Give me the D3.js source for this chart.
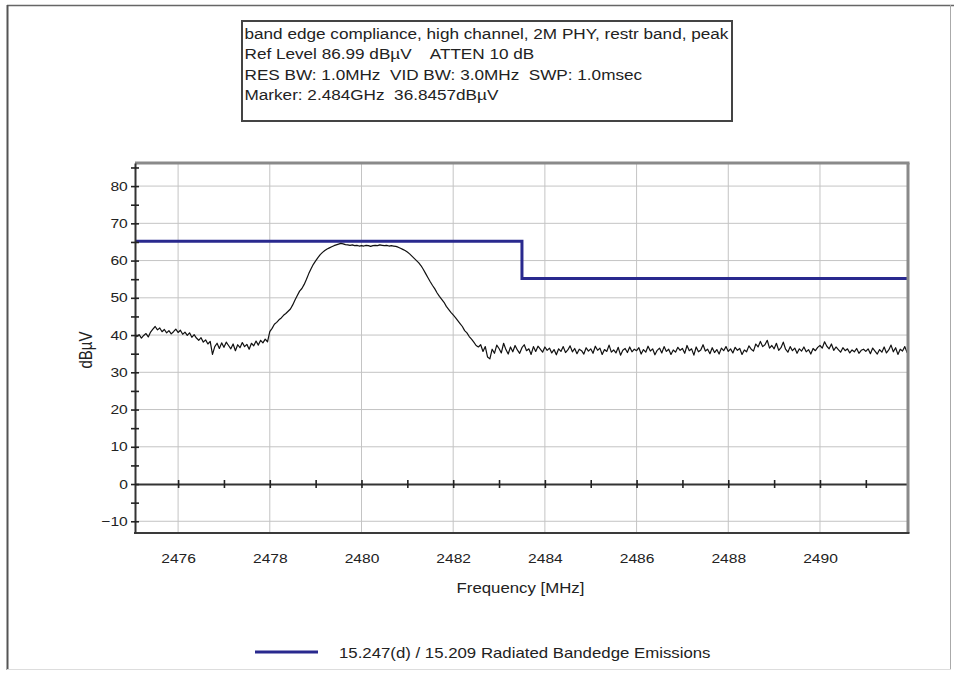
<!DOCTYPE html>
<html>
<head>
<meta charset="utf-8">
<script src="https://cdn.jsdelivr.net/npm/d3@7"></script>
<style>
  html, body { margin: 0; padding: 0; background: #fff; }
  svg { display: block; font-family: "Liberation Sans", Arial, sans-serif; }
</style>
</head>
<body>
<svg id="chart" width="954" height="675"></svg>
<script>
// ---- Measurement header ----
const headerLines = [
  "band edge compliance, high channel, 2M PHY, restr band, peak",
  "Ref Level 86.99 dBµV    ATTEN 10 dB",
  "RES BW: 1.0MHz  VID BW: 3.0MHz  SWP: 1.0msec",
  "Marker: 2.484GHz  36.8457dBµV"
];

// ---- Sweep trace (dBµV), one reading every 0.05 MHz from 2475.00 MHz ----
const traceStartMHz = 2475.0;
const traceStepMHz = 0.05;
const traceLevels = [
  // 2475
  39.8, 40.3, 39.6, 40.1, 39.2, 39.9, 40.4, 39.5, 40.8, 41.6, 42.3, 41.4, 41.9, 40.9, 41.5, 40.6, 41.2, 40.3, 40.9, 41.6,
  // 2476
  40.7, 41.3, 40.2, 40.8, 39.9, 40.6, 39.4, 40.1, 39.2, 38.6, 39.3, 38.1, 38.7, 37.6, 38.3, 34.8, 36.9, 37.8, 36.4, 37.9,
  // 2477
  36.7, 38.1, 37.2, 36.3, 37.6, 35.8, 37.4, 36.6, 38.0, 36.9, 37.5, 36.2, 37.8, 37.1, 38.4, 37.3, 38.6, 37.9, 38.9, 38.2,
  // 2478
  40.9, 41.8, 42.9, 43.4, 44.1, 44.6, 45.3, 45.8, 46.4, 47.0, 48.1, 49.4, 50.6, 51.8, 52.5, 53.6, 55.0, 56.5, 57.8, 59.0,
  // 2479
  59.9, 60.8, 61.6, 62.2, 62.7, 63.1, 63.4, 63.7, 64.0, 64.2, 64.4, 64.6, 64.5, 64.3, 64.2, 64.1, 64.2, 64.0, 64.1, 63.9,
  // 2480
  64.0, 63.9, 64.1, 64.0, 63.8, 64.0, 64.1, 64.0, 64.2, 64.1, 64.0, 64.1, 63.9, 64.0, 63.9, 63.8, 63.6, 63.3, 63.0, 62.7,
  // 2481
  62.3, 61.8, 61.2, 60.6, 60.0, 59.4, 58.6, 57.6, 56.5, 55.4, 54.3, 53.3, 52.4, 51.3, 50.4, 49.6, 48.8, 47.7, 46.9, 46.1,
  // 2482
  45.4, 44.7, 43.9, 43.1, 42.3, 41.2, 40.6, 39.6, 38.9, 38.1, 37.2, 36.8, 37.4, 35.6, 36.9, 34.1, 33.6, 36.2, 35.1, 37.3,
  // 2483
  36.4, 35.2, 37.8, 36.1, 34.9, 36.8, 35.5, 37.2, 36.0, 35.1, 36.6, 37.4, 35.8, 36.3, 34.8, 36.9, 35.6, 37.0, 36.2, 35.4,
  // 2484
  36.8, 35.9, 36.5, 35.2, 36.1, 34.7, 36.3, 35.6, 36.9, 35.3, 36.0, 37.1, 35.5, 36.4, 35.0, 36.2, 35.8, 34.9, 36.6, 35.7,
  // 2485
  36.3, 35.1, 37.0, 35.9, 36.5, 34.8, 36.1, 35.6, 37.3, 35.4, 36.0, 35.2, 36.7, 34.6, 35.9, 36.4, 35.3, 36.8, 35.5, 36.2,
  // 2486
  35.8, 36.6, 34.9, 36.1, 35.4, 37.0, 35.7, 36.3, 34.7, 35.9, 36.5, 35.2, 36.9, 35.6, 36.2, 34.8, 36.0, 35.4, 36.7, 35.9,
  // 2487
  36.4, 35.1, 37.2, 35.8, 36.3, 34.6, 36.8, 35.5, 36.0, 37.4, 35.7, 36.2, 35.0, 36.6, 35.3, 36.1, 34.9, 36.5, 35.8, 36.9,
  // 2488
  35.6, 36.3, 35.2, 36.7, 35.9, 36.4, 34.8, 36.0, 35.5, 37.1, 36.2, 35.7, 37.6, 36.8, 38.3, 36.9, 37.4, 38.6, 36.5, 37.2,
  // 2489
  36.3, 37.8, 35.9, 36.6, 38.1, 36.2, 35.4, 36.9, 35.8, 36.5, 35.1, 36.3, 35.7, 36.8, 35.5, 36.1, 34.9, 36.4, 35.8, 36.7,
  // 2490
  37.2, 36.5, 38.2, 37.0, 36.3, 37.6, 35.9, 36.8, 36.1, 35.4, 36.6, 35.8, 36.3, 35.2, 36.0, 35.5, 36.4, 35.1, 35.9, 36.2,
  // 2491
  35.6, 36.3, 35.0, 36.5, 35.7, 34.9, 36.1, 35.4, 36.8, 35.2, 36.0, 37.3, 35.5, 36.6, 34.8, 36.2, 35.7, 36.9, 35.3, 36.1,
  // 2492
  35.8
];

// ---- Limit line: 15.247(d) / 15.209 ----
const limitFreqs = [2475.0, 2483.5, 2483.5, 2492.0];
const limitLevels = [65.2, 65.2, 55.2, 55.2];
const legendLabel = "15.247(d) / 15.209 Radiated Bandedge Emissions";

// ---- Axes ----
const xLabelTicks = [2476, 2478, 2480, 2482, 2484, 2486, 2488, 2490];
const xMinorTicks = [2476, 2477, 2478, 2479, 2480, 2481, 2482, 2483, 2484, 2485, 2486, 2487, 2488, 2489, 2490, 2491];
const yLabelTicks = [-10, 0, 10, 20, 30, 40, 50, 60, 70, 80];
const yMinorTicks = [-10, -5, 0, 5, 10, 15, 20, 25, 30, 35, 40, 45, 50, 55, 60, 65, 70, 75, 80, 85];
const xTitle = "Frequency [MHz]";
const yTitle = "dBµV";

// Text in this analyzer export is drawn horizontally widened
const SX = 1.2;
const textColor = "#222";
const limitColor = "#29298e";

const svg = d3.select("#chart");
const plot = { left: 135, right: 908, top: 163, bottom: 533 };

const x = d3.scaleLinear().domain([2475.06, 2491.92]).range([plot.left, plot.right]);
const y = d3.scaleLinear().domain([-13.15, 86.2]).range([plot.bottom, plot.top]);

// Outer window frame
svg.append("line").attr("x1", 7).attr("x2", 954).attr("y1", 5.5).attr("y2", 5.5)
  .attr("stroke", "#666").attr("stroke-width", 1.5);
svg.append("line").attr("x1", 7.5).attr("x2", 7.5).attr("y1", 5).attr("y2", 670)
  .attr("stroke", "#555").attr("stroke-width", 2);
svg.append("line").attr("x1", 950.5).attr("x2", 950.5).attr("y1", 5).attr("y2", 670)
  .attr("stroke", "#aaa").attr("stroke-width", 1);
svg.append("line").attr("x1", 7).attr("x2", 951).attr("y1", 669.5).attr("y2", 669.5)
  .attr("stroke", "#ddd").attr("stroke-width", 1);

// Header box
svg.append("rect").attr("x", 242).attr("y", 21).attr("width", 490).attr("height", 100)
  .attr("fill", "#fff").attr("stroke", "#444").attr("stroke-width", 2);
const headerBaselines = [38.5, 59, 79.5, 100];
svg.append("g").selectAll("text").data(headerLines).join("text")
  .attr("transform", (d, i) => `translate(244.5,${headerBaselines[i]}) scale(${SX},1)`)
  .style("white-space", "pre")
  .attr("font-size", 14.3)
  .attr("fill", textColor)
  .text(d => d);

// Grid
const grid = svg.append("g");
grid.selectAll("line.gx").data(xLabelTicks).join("line")
  .attr("x1", d => x(d)).attr("x2", d => x(d))
  .attr("y1", plot.top).attr("y2", plot.bottom)
  .attr("stroke", "#c4c4c4").attr("stroke-width", 1);
grid.selectAll("line.gy").data(yLabelTicks.filter(v => v !== 0)).join("line")
  .attr("x1", plot.left).attr("x2", plot.right)
  .attr("y1", d => y(d)).attr("y2", d => y(d))
  .attr("stroke", "#c4c4c4").attr("stroke-width", 1);

// Clip for data
svg.append("clipPath").attr("id", "plotClip").append("rect")
  .attr("x", plot.left).attr("y", plot.top)
  .attr("width", plot.right - plot.left).attr("height", plot.bottom - plot.top);

// Zero reference axis with 1 MHz ticks
const zeroAxis = svg.append("g")
  .attr("transform", `translate(0,${y(0)})`)
  .call(d3.axisBottom(x).tickValues(xMinorTicks).tickSize(8).tickSizeOuter(0).tickFormat(""));
zeroAxis.select(".domain").attr("stroke", "#333").attr("stroke-width", 2);
zeroAxis.selectAll(".tick line").attr("transform", "translate(0,-4)")
  .attr("stroke", "#222").attr("stroke-width", 1.6);

// Limit line
const limitData = limitFreqs.map((f, i) => [f, limitLevels[i]]);
svg.append("path").datum(limitData)
  .attr("clip-path", "url(#plotClip)")
  .attr("fill", "none").attr("stroke", limitColor).attr("stroke-width", 3)
  .attr("d", d3.line().x(d => x(d[0])).y(d => y(d[1])));

// Trace
const traceData = traceLevels.map((v, i) => [traceStartMHz + i * traceStepMHz, v]);
svg.append("path").datum(traceData)
  .attr("clip-path", "url(#plotClip)")
  .attr("fill", "none").attr("stroke", "#111").attr("stroke-width", 1.2)
  .attr("stroke-linejoin", "round")
  .attr("d", d3.line().x(d => x(d[0])).y(d => y(d[1])));

// Plot frame: top and right heavier gray, left and bottom dark
svg.append("line").attr("x1", plot.left).attr("x2", plot.right + 1.5)
  .attr("y1", plot.top).attr("y2", plot.top)
  .attr("stroke", "#8a8a8a").attr("stroke-width", 3);
svg.append("line").attr("x1", plot.right).attr("x2", plot.right)
  .attr("y1", plot.top).attr("y2", plot.bottom)
  .attr("stroke", "#8a8a8a").attr("stroke-width", 3);

// Bottom axis (labels)
const xAxis = svg.append("g")
  .attr("transform", `translate(0,${plot.bottom})`)
  .call(d3.axisBottom(x).tickValues(xLabelTicks).tickSize(0).tickSizeOuter(0).tickPadding(21).tickFormat(d3.format("d")));
xAxis.select(".domain").attr("stroke", "#3a3a3a").attr("stroke-width", 2)
  .attr("d", `M${plot.left - 1},0H${plot.right + 1.5}`);
xAxis.selectAll(".tick text")
  .attr("font-family", "Liberation Sans, Arial, sans-serif")
  .attr("font-size", 13).attr("fill", textColor)
  .attr("transform", `scale(${SX},1)`);

// Left axis (labels)
const yAxis = svg.append("g")
  .attr("transform", `translate(${plot.left},0)`)
  .call(d3.axisLeft(y).tickValues(yLabelTicks).tickSize(0).tickSizeOuter(0).tickPadding(6).tickFormat(d3.format("d")));
yAxis.select(".domain").attr("stroke", "#333").attr("stroke-width", 2);
yAxis.selectAll(".tick text")
  .attr("font-family", "Liberation Sans, Arial, sans-serif")
  .attr("font-size", 13).attr("fill", textColor)
  .attr("transform", `scale(${SX},1)`);

// Left axis 5 dB ticks crossing the axis
const yTickAxis = svg.append("g")
  .attr("transform", `translate(${plot.left},0)`)
  .call(d3.axisLeft(y).tickValues(yMinorTicks).tickSize(8).tickSizeOuter(0).tickFormat(""));
yTickAxis.select(".domain").remove();
yTickAxis.selectAll(".tick line").attr("transform", "translate(4,0)")
  .attr("stroke", "#222").attr("stroke-width", 1.6);

// Axis titles
svg.append("text")
  .attr("transform", `translate(${(plot.left + plot.right) / 2 - 1},593) scale(${SX},1)`)
  .attr("text-anchor", "middle").attr("font-size", 14).attr("fill", textColor)
  .text(xTitle);
svg.append("text")
  .attr("transform", `translate(92,${(plot.top + plot.bottom) / 2 + 2}) scale(${SX},1) rotate(-90)`)
  .attr("text-anchor", "middle").attr("font-size", 15).attr("fill", textColor)
  .text(yTitle);

// Legend
const legend = svg.append("g");
legend.append("line").attr("x1", 255).attr("x2", 318).attr("y1", 652).attr("y2", 652)
  .attr("stroke", limitColor).attr("stroke-width", 3);
legend.append("text")
  .attr("transform", `translate(339,657.5) scale(${SX},1)`)
  .attr("font-size", 14).attr("fill", textColor)
  .text(legendLabel);
</script>
</body>
</html>
